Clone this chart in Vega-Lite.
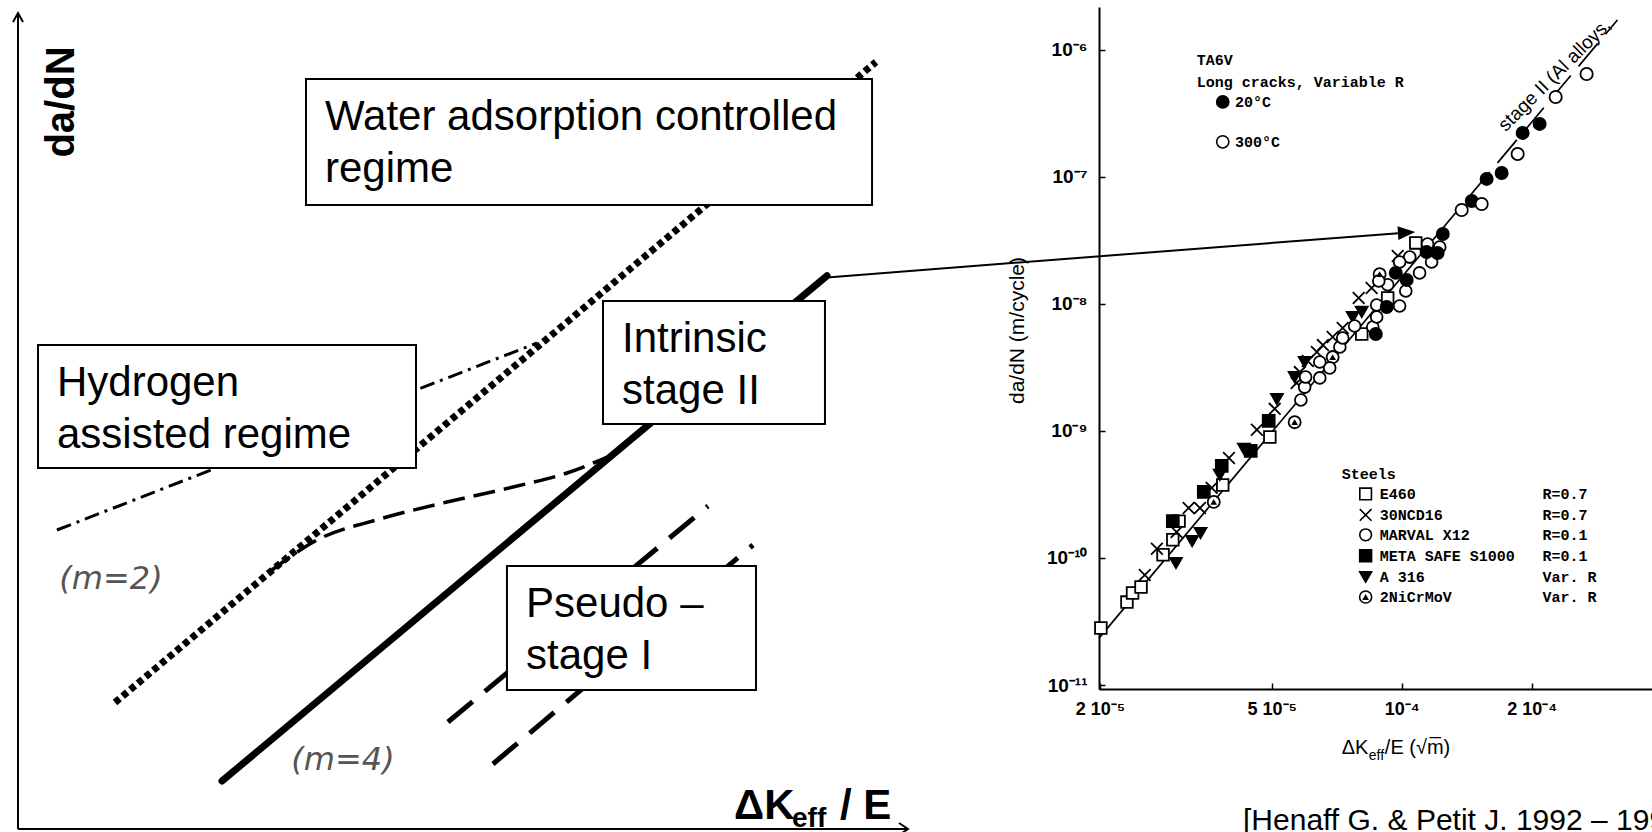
{
  "$schema": "https://vega.github.io/schema/vega-lite/v6.json",
  "width": 1652,
  "height": 832,
  "padding": 0,
  "autosize": "none",
  "background": "white",
  "config": {"view": {"stroke": null}},
  "datasets": {
    "lines": [
      {"id": "dotted", "o": 0, "u": 10.90, "v": 15.50}, {"id": "dotted", "o": 1, "u": 96.40, "v": 94.00},
      {"id": "solid", "o": 0, "u": 22.92, "v": 5.88}, {"id": "solid", "o": 1, "u": 90.90, "v": 67.80},
      {"id": "dashdot", "o": 0, "u": 4.38, "v": 36.64}, {"id": "dashdot", "o": 1, "u": 58.31, "v": 59.56},
      {"id": "curve", "o": 0, "u": 28.54, "v": 31.74}, {"id": "curve", "o": 1, "u": 33.60, "v": 35.42},
      {"id": "curve", "o": 2, "u": 40.67, "v": 37.99}, {"id": "curve", "o": 3, "u": 48.20, "v": 40.07},
      {"id": "curve", "o": 4, "u": 55.62, "v": 41.91}, {"id": "curve", "o": 5, "u": 61.69, "v": 43.63},
      {"id": "curve", "o": 6, "u": 66.74, "v": 45.83},
      {"id": "pseudoA", "o": 0, "u": 48.31, "v": 13.11}, {"id": "pseudoA", "o": 1, "u": 77.53, "v": 39.58},
      {"id": "pseudoB", "o": 0, "u": 53.37, "v": 7.97}, {"id": "pseudoB", "o": 1, "u": 82.58, "v": 34.80},
      {"id": "yaxis", "o": 0, "u": 0, "v": 0}, {"id": "yaxis", "o": 1, "u": 0, "v": 100},
      {"id": "xaxis", "o": 0, "u": 0, "v": 0}, {"id": "xaxis", "o": 1, "u": 100, "v": 0},
      {"id": "yhead", "o": 0, "u": -0.56, "v": 98.9}, {"id": "yhead", "o": 1, "u": 0, "v": 100}, {"id": "yhead", "o": 2, "u": 0.56, "v": 98.9},
      {"id": "xhead", "o": 0, "u": 98.99, "v": 0.74}, {"id": "xhead", "o": 1, "u": 100, "v": 0}, {"id": "xhead", "o": 2, "u": 98.99, "v": -0.74},
      {"id": "arrow", "o": 0, "u": 90.90, "v": 67.60}, {"id": "arrow", "o": 1, "u": 155.10, "v": 73.02}
    ],
    "arrowTip": [{"u": 156.02, "v": 73.09}],
    "boxes": [
      {"name": "water", "u": 32.36, "u2": 95.96, "v": 91.91, "v2": 76.47},
      {"name": "intrinsic", "u": 65.73, "u2": 90.67, "v": 64.71, "v2": 49.63},
      {"name": "hydrogen", "u": 2.25, "u2": 44.72, "v": 59.31, "v2": 44.24},
      {"name": "pseudo", "u": 54.94, "u2": 82.92, "v": 32.23, "v2": 17.03}
    ],
    "boxText": [
      {"t": "Water adsorption controlled", "u": 34.49, "v": 85.66},
      {"t": "regime", "u": 34.49, "v": 79.29},
      {"t": "Intrinsic", "u": 67.87, "v": 58.46},
      {"t": "stage II", "u": 67.87, "v": 52.08},
      {"t": "Hydrogen", "u": 4.38, "v": 53.06},
      {"t": "assisted regime", "u": 4.38, "v": 46.69},
      {"t": "Pseudo –", "u": 57.08, "v": 25.98},
      {"t": "stage I", "u": 57.08, "v": 19.61}
    ],
    "ltext": [
      {"id": "m", "t": "(m=2)", "u": 10.45, "v": 30.64},
      {"id": "m", "t": "(m=4)", "u": 36.52, "v": 8.46},
      {"id": "ylab", "t": "da/dN", "u": 4.94, "v": 89.09},
      {"id": "xmain", "t": "ΔK", "u": 80.45, "v": 1.23},
      {"id": "xsub", "t": "eff", "u": 86.97, "v": 0.25},
      {"id": "xmain", "t": "/ E", "u": 92.36, "v": 1.23}
    ],
    "trend": [
      {"part": "solid", "dk": 1.99e-5, "dadn": 2.34e-11},
      {"part": "solid", "dk": 1.25e-4, "dadn": 4.0e-8},
      {"part": "dash", "dk": 1.25e-4, "dadn": 4.0e-8},
      {"part": "dash", "dk": 3.16e-4, "dadn": 1.71e-6}
    ],
    "pts": [
      {"s": "E460", "dk": 2.01e-5, "dadn": 2.81e-11},
      {"s": "E460", "dk": 2.31e-5, "dadn": 4.50e-11},
      {"s": "E460", "dk": 2.38e-5, "dadn": 5.30e-11},
      {"s": "E460", "dk": 2.49e-5, "dadn": 5.91e-11},
      {"s": "E460", "dk": 2.80e-5, "dadn": 1.06e-10},
      {"s": "E460", "dk": 2.95e-5, "dadn": 1.39e-10},
      {"s": "E460", "dk": 3.05e-5, "dadn": 1.95e-10},
      {"s": "E460", "dk": 3.85e-5, "dadn": 3.75e-10},
      {"s": "E460", "dk": 4.95e-5, "dadn": 8.95e-10},
      {"s": "E460", "dk": 8.08e-5, "dadn": 5.78e-9},
      {"s": "E460", "dk": 9.28e-5, "dadn": 1.11e-8},
      {"s": "E460", "dk": 1.078e-4, "dadn": 3.01e-8},
      {"s": "30NCD16", "dk": 2.54e-5, "dadn": 7.35e-11},
      {"s": "30NCD16", "dk": 2.71e-5, "dadn": 1.18e-10},
      {"s": "30NCD16", "dk": 3.01e-5, "dadn": 1.60e-10},
      {"s": "30NCD16", "dk": 3.21e-5, "dadn": 2.47e-10},
      {"s": "30NCD16", "dk": 3.41e-5, "dadn": 2.47e-10},
      {"s": "30NCD16", "dk": 3.63e-5, "dadn": 3.56e-10},
      {"s": "30NCD16", "dk": 3.98e-5, "dadn": 6.12e-10},
      {"s": "30NCD16", "dk": 4.62e-5, "dadn": 1.02e-9},
      {"s": "30NCD16", "dk": 5.08e-5, "dadn": 1.49e-9},
      {"s": "30NCD16", "dk": 5.71e-5, "dadn": 2.38e-9},
      {"s": "30NCD16", "dk": 5.81e-5, "dadn": 2.90e-9},
      {"s": "30NCD16", "dk": 6.06e-5, "dadn": 3.55e-9},
      {"s": "30NCD16", "dk": 6.36e-5, "dadn": 4.18e-9},
      {"s": "30NCD16", "dk": 6.57e-5, "dadn": 4.73e-9},
      {"s": "30NCD16", "dk": 6.92e-5, "dadn": 5.47e-9},
      {"s": "30NCD16", "dk": 7.30e-5, "dadn": 6.44e-9},
      {"s": "30NCD16", "dk": 7.95e-5, "dadn": 1.11e-8},
      {"s": "30NCD16", "dk": 8.52e-5, "dadn": 1.33e-8},
      {"s": "30NCD16", "dk": 9.79e-5, "dadn": 2.38e-8},
      {"s": "META SAFE S1000", "dk": 2.95e-5, "dadn": 1.95e-10},
      {"s": "META SAFE S1000", "dk": 3.48e-5, "dadn": 3.31e-10},
      {"s": "META SAFE S1000", "dk": 3.83e-5, "dadn": 5.30e-10},
      {"s": "META SAFE S1000", "dk": 4.47e-5, "dadn": 6.95e-10},
      {"s": "META SAFE S1000", "dk": 4.92e-5, "dadn": 1.20e-9},
      {"s": "A 316", "dk": 3.00e-5, "dadn": 9.13e-11},
      {"s": "A 316", "dk": 3.27e-5, "dadn": 1.36e-10},
      {"s": "A 316", "dk": 3.42e-5, "dadn": 1.57e-10},
      {"s": "A 316", "dk": 3.79e-5, "dadn": 4.50e-10},
      {"s": "A 316", "dk": 4.31e-5, "dadn": 7.21e-10},
      {"s": "A 316", "dk": 5.14e-5, "dadn": 1.78e-9},
      {"s": "A 316", "dk": 5.65e-5, "dadn": 2.65e-9},
      {"s": "A 316", "dk": 5.96e-5, "dadn": 3.48e-9},
      {"s": "A 316", "dk": 7.70e-5, "dadn": 7.87e-9},
      {"s": "A 316", "dk": 8.08e-5, "dadn": 8.63e-9},
      {"s": "2NiCrMoV", "dk": 3.67e-5, "dadn": 2.76e-10},
      {"s": "2NiCrMoV", "dk": 5.65e-5, "dadn": 1.17e-9},
      {"s": "2NiCrMoV", "dk": 6.92e-5, "dadn": 3.81e-9},
      {"s": "2NiCrMoV", "dk": 8.89e-5, "dadn": 1.71e-8},
      {"s": "MARVAL X12", "dk": 5.84e-5, "dadn": 1.75e-9},
      {"s": "MARVAL X12", "dk": 5.96e-5, "dadn": 2.21e-9},
      {"s": "MARVAL X12", "dk": 5.99e-5, "dadn": 2.65e-9},
      {"s": "MARVAL X12", "dk": 6.46e-5, "dadn": 2.61e-9},
      {"s": "MARVAL X12", "dk": 6.81e-5, "dadn": 3.13e-9},
      {"s": "MARVAL X12", "dk": 6.46e-5, "dadn": 3.48e-9},
      {"s": "MARVAL X12", "dk": 7.19e-5, "dadn": 4.57e-9},
      {"s": "MARVAL X12", "dk": 7.30e-5, "dadn": 5.38e-9},
      {"s": "MARVAL X12", "dk": 7.78e-5, "dadn": 6.68e-9},
      {"s": "MARVAL X12", "dk": 8.57e-5, "dadn": 6.56e-9},
      {"s": "MARVAL X12", "dk": 8.75e-5, "dadn": 7.87e-9},
      {"s": "MARVAL X12", "dk": 8.75e-5, "dadn": 9.79e-9},
      {"s": "MARVAL X12", "dk": 9.89e-5, "dadn": 9.61e-9},
      {"s": "MARVAL X12", "dk": 1.022e-4, "dadn": 1.26e-8},
      {"s": "MARVAL X12", "dk": 9.28e-5, "dadn": 1.41e-8},
      {"s": "MARVAL X12", "dk": 8.85e-5, "dadn": 1.51e-8},
      {"s": "MARVAL X12", "dk": 1.10e-4, "dadn": 1.75e-8},
      {"s": "MARVAL X12", "dk": 1.044e-4, "dadn": 2.33e-8},
      {"s": "MARVAL X12", "dk": 9.89e-5, "dadn": 2.13e-8},
      {"s": "MARVAL X12", "dk": 1.148e-4, "dadn": 2.95e-8},
      {"s": "MARVAL X12", "dk": 1.225e-4, "dadn": 2.80e-8},
      {"s": "MARVAL X12", "dk": 1.173e-4, "dadn": 2.13e-8},
      {"s": "TA6V 20°C", "dk": 8.71e-5, "dadn": 5.78e-9},
      {"s": "TA6V 20°C", "dk": 9.23e-5, "dadn": 9.44e-9},
      {"s": "TA6V 20°C", "dk": 9.69e-5, "dadn": 1.75e-8},
      {"s": "TA6V 20°C", "dk": 1.027e-4, "dadn": 1.54e-8},
      {"s": "TA6V 20°C", "dk": 1.142e-4, "dadn": 2.55e-8},
      {"s": "TA6V 20°C", "dk": 1.211e-4, "dadn": 2.51e-8},
      {"s": "TA6V 20°C", "dk": 1.245e-4, "dadn": 3.54e-8},
      {"s": "TA6V 20°C", "dk": 1.453e-4, "dadn": 6.44e-8},
      {"s": "TA6V 20°C", "dk": 1.573e-4, "dadn": 9.60e-8},
      {"s": "TA6V 20°C", "dk": 1.704e-4, "dadn": 1.07e-7},
      {"s": "TA6V 20°C", "dk": 1.906e-4, "dadn": 2.21e-7},
      {"s": "TA6V 20°C", "dk": 2.087e-4, "dadn": 2.60e-7},
      {"s": "TA6V 300°C", "dk": 1.377e-4, "dadn": 5.47e-8},
      {"s": "TA6V 300°C", "dk": 1.532e-4, "dadn": 6.10e-8},
      {"s": "TA6V 300°C", "dk": 1.856e-4, "dadn": 1.51e-7},
      {"s": "TA6V 300°C", "dk": 2.273e-4, "dadn": 4.24e-7},
      {"s": "TA6V 300°C", "dk": 2.681e-4, "dadn": 6.43e-7}
    ],
    "tleg": [
      {"s": "TA6V 20°C", "t": "20°C", "dk": 3.85e-5, "tk": 4.11e-5, "dadn": 3.87e-7},
      {"s": "TA6V 300°C", "t": "300°C", "dk": 3.85e-5, "tk": 4.11e-5, "dadn": 1.88e-7}
    ],
    "sleg": [
      {"s": "E460", "t": "E460", "r": "R=0.7", "dk": 8.25e-5, "nk": 8.89e-5, "rk": 2.12e-4, "dadn": 3.19e-10},
      {"s": "30NCD16", "t": "30NCD16", "r": "R=0.7", "dk": 8.25e-5, "nk": 8.89e-5, "rk": 2.12e-4, "dadn": 2.18e-10},
      {"s": "MARVAL X12", "t": "MARVAL X12", "r": "R=0.1", "dk": 8.25e-5, "nk": 8.89e-5, "rk": 2.12e-4, "dadn": 1.52e-10},
      {"s": "META SAFE S1000", "t": "META SAFE S1000", "r": "R=0.1", "dk": 8.25e-5, "nk": 8.89e-5, "rk": 2.12e-4, "dadn": 1.04e-10},
      {"s": "A 316", "t": "A 316", "r": "Var. R", "dk": 8.25e-5, "nk": 8.89e-5, "rk": 2.12e-4, "dadn": 7.08e-11},
      {"s": "2NiCrMoV", "t": "2NiCrMoV", "r": "Var. R", "dk": 8.25e-5, "nk": 8.89e-5, "rk": 2.12e-4, "dadn": 4.93e-11}
    ],
    "rnote": [
      {"t": "TA6V", "dk": 3.35e-5, "dadn": 8.28e-7},
      {"t": "Long cracks, Variable R", "dk": 3.35e-5, "dadn": 5.56e-7},
      {"t": "Steels", "dk": 7.26e-5, "dadn": 4.58e-10}
    ],
    "stage": [{"t": "stage II (Al alloys,", "dk": 2.26e-4, "dadn": 6.31e-7}],
    "xtitle": [
      {"id": "main", "t": "ΔK", "dk": 7.26e-5, "dadn": 2.87e-12},
      {"id": "sub", "t": "eff", "dk": 8.39e-5, "dadn": 2.58e-12},
      {"id": "main", "t": "/E (√m̅)", "dk": 9.14e-5, "dadn": 2.87e-12}
    ],
    "cite": [{"t": "[Henaff G.  & Petit J. 1992 – 1994]", "dk": 4.29e-5, "dadn": 7.24e-13}]
  },
  "layer": [
    {
      "encoding": {
        "x": {"field": "u", "type": "quantitative", "scale": {"domain": [0, 100], "range": [18, 908], "nice": false, "zero": false}, "axis": null},
        "y": {"field": "v", "type": "quantitative", "scale": {"domain": [0, 100], "range": [829, 13], "nice": false, "zero": false}, "axis": null}
      },
      "layer": [
        {
          "data": {"name": "lines"},
          "transform": [{"filter": "datum.id == 'dotted'"}],
          "mark": {"type": "line", "color": "black", "strokeWidth": 7, "strokeDash": [6, 4], "strokeCap": "butt"},
          "encoding": {"order": {"field": "o"}}
        },
        {
          "data": {"name": "lines"},
          "transform": [{"filter": "datum.id == 'solid'"}],
          "mark": {"type": "line", "color": "black", "strokeWidth": 7, "strokeCap": "round"},
          "encoding": {"order": {"field": "o"}}
        },
        {
          "data": {"name": "lines"},
          "transform": [{"filter": "datum.id == 'dashdot'"}],
          "mark": {"type": "line", "color": "black", "strokeWidth": 3, "strokeDash": [15, 6, 3, 6]},
          "encoding": {"order": {"field": "o"}}
        },
        {
          "data": {"name": "lines"},
          "transform": [{"filter": "datum.id == 'curve'"}],
          "mark": {"type": "line", "color": "black", "strokeWidth": 3.5, "strokeDash": [22, 9], "interpolate": "monotone"},
          "encoding": {"order": {"field": "o"}}
        },
        {
          "data": {"name": "lines"},
          "transform": [{"filter": "datum.id == 'pseudoA' || datum.id == 'pseudoB'"}],
          "mark": {"type": "line", "color": "black", "strokeWidth": 5, "strokeDash": [32, 16]},
          "encoding": {"detail": {"field": "id"}, "order": {"field": "o"}}
        },
        {
          "data": {"name": "boxes"},
          "mark": {"type": "rect", "fill": "white", "stroke": "black", "strokeWidth": 2},
          "encoding": {"x2": {"field": "u2"}, "y2": {"field": "v2"}}
        },
        {
          "data": {"name": "boxText"},
          "mark": {"type": "text", "font": "Liberation Sans", "fontSize": 42, "align": "left", "baseline": "alphabetic", "color": "black"},
          "encoding": {"text": {"field": "t"}}
        },
        {
          "data": {"name": "ltext"},
          "transform": [{"filter": "datum.id == 'm'"}],
          "mark": {"type": "text", "font": "DejaVu Sans", "fontStyle": "italic", "fontSize": 32, "align": "center", "baseline": "middle", "color": "#555555"},
          "encoding": {"text": {"field": "t"}}
        },
        {
          "data": {"name": "ltext"},
          "transform": [{"filter": "datum.id == 'ylab'"}],
          "mark": {"type": "text", "font": "Liberation Sans", "fontWeight": "bold", "fontSize": 40, "angle": 270, "align": "center", "baseline": "middle", "color": "black"},
          "encoding": {"text": {"field": "t"}}
        },
        {
          "data": {"name": "ltext"},
          "transform": [{"filter": "datum.id == 'xmain'"}],
          "mark": {"type": "text", "font": "Liberation Sans", "fontWeight": "bold", "fontSize": 42, "align": "left", "baseline": "alphabetic", "color": "black"},
          "encoding": {"text": {"field": "t"}}
        },
        {
          "data": {"name": "ltext"},
          "transform": [{"filter": "datum.id == 'xsub'"}],
          "mark": {"type": "text", "font": "Liberation Sans", "fontWeight": "bold", "fontSize": 28, "align": "left", "baseline": "alphabetic", "color": "black"},
          "encoding": {"text": {"field": "t"}}
        },
        {
          "data": {"name": "lines"},
          "transform": [{"filter": "indexof(['yaxis','xaxis','yhead','xhead','arrow'], datum.id) >= 0"}],
          "mark": {"type": "line", "color": "black", "strokeWidth": 2},
          "encoding": {"detail": {"field": "id"}, "order": {"field": "o"}}
        },
        {
          "data": {"name": "arrowTip"},
          "mark": {"type": "point", "shape": "M1,0L-1,-0.8L-1,0.8Z", "size": 300, "angle": 356.3, "filled": true, "color": "black", "opacity": 1}
        }
      ]
    },
    {
      "encoding": {
        "x": {
          "field": "dk", "type": "quantitative",
          "scale": {"type": "log", "domain": [1.99e-5, 3.8e-4], "range": [1099, 1652], "nice": false},
          "axis": {
            "orient": "bottom", "offset": -143, "values": [2e-5, 5e-5, 1e-4, 2e-4],
            "labelExpr": "datum.value < 3e-5 ? '2 10⁻⁵' : datum.value < 7e-5 ? '5 10⁻⁵' : datum.value < 1.5e-4 ? '10⁻⁴' : '2 10⁻⁴'",
            "tickSize": -6, "tickWidth": 1.5, "tickColor": "black", "labelPadding": 17,
            "labelFont": "Liberation Sans", "labelFontSize": 18, "labelFontWeight": "bold", "labelColor": "black",
            "domainColor": "black", "domainWidth": 2, "grid": false, "title": null, "labelOverlap": false, "labelFlush": false
          }
        },
        "y": {
          "field": "dadn", "type": "quantitative",
          "scale": {"type": "log", "domain": [9.31e-12, 2.163e-6], "range": [689, 7], "nice": false},
          "axis": {
            "orient": "left", "offset": -1099, "values": [1e-11, 1e-10, 1e-9, 1e-8, 1e-7, 1e-6],
            "labelExpr": "['10⁻¹¹','10⁻¹⁰','10⁻⁹','10⁻⁸','10⁻⁷','10⁻⁶'][round(log(datum.value)/LN10)+11]",
            "tickSize": -6, "tickWidth": 1.5, "tickColor": "black", "labelPadding": 18,
            "labelFont": "Liberation Sans", "labelFontSize": 19, "labelFontWeight": "bold", "labelColor": "black",
            "domainColor": "black", "domainWidth": 2, "grid": false, "labelOverlap": false, "labelFlush": false,
            "title": "da/dN  (m/cycle)", "titleFont": "Liberation Sans", "titleFontSize": 21, "titleFontWeight": "normal",
            "titleColor": "black", "titleX": -72, "titleY": 330, "titleAngle": 270, "titleBaseline": "bottom", "titleAlign": "center"
          }
        }
      },
      "layer": [
        {
          "data": {"name": "trend"},
          "transform": [{"filter": "datum.part == 'solid'"}],
          "mark": {"type": "line", "color": "black", "strokeWidth": 1.7}
        },
        {
          "data": {"name": "trend"},
          "transform": [{"filter": "datum.part == 'dash'"}],
          "mark": {"type": "line", "color": "black", "strokeWidth": 1.7, "strokeDash": [30, 12]}
        },
        {
          "data": {"name": "pts"},
          "mark": {"type": "point", "filled": true, "stroke": "black", "strokeWidth": 1.8, "opacity": 1},
          "encoding": {
            "shape": {"field": "s", "type": "nominal", "legend": null, "scale": {
              "domain": ["E460", "30NCD16", "MARVAL X12", "META SAFE S1000", "A 316", "2NiCrMoV", "TA6V 20°C", "TA6V 300°C"],
              "range": ["square", "M-1,-1L1,1M1,-1L-1,1", "circle", "square", "triangle-down", "circle", "circle", "circle"]}},
            "fill": {"field": "s", "type": "nominal", "legend": null, "scale": {
              "domain": ["E460", "30NCD16", "MARVAL X12", "META SAFE S1000", "A 316", "2NiCrMoV", "TA6V 20°C", "TA6V 300°C"],
              "range": ["white", "transparent", "white", "black", "black", "white", "black", "white"]}},
            "size": {"field": "s", "type": "nominal", "legend": null, "scale": {
              "domain": ["E460", "30NCD16", "MARVAL X12", "META SAFE S1000", "A 316", "2NiCrMoV", "TA6V 20°C", "TA6V 300°C"],
              "range": [135, 150, 170, 95, 110, 210, 95, 170]}}
          }
        },
        {
          "data": {"name": "pts"},
          "transform": [{"filter": "datum.s == '2NiCrMoV'"}],
          "mark": {"type": "point", "shape": "triangle-up", "filled": true, "color": "black", "size": 45, "opacity": 1}
        },
        {
          "data": {"name": "sleg"},
          "mark": {"type": "point", "filled": true, "stroke": "black", "strokeWidth": 1.6, "opacity": 1},
          "encoding": {
            "shape": {"field": "s", "type": "nominal", "legend": null},
            "fill": {"field": "s", "type": "nominal", "legend": null},
            "size": {"field": "s", "type": "nominal", "legend": null}
          }
        },
        {
          "data": {"name": "sleg"},
          "transform": [{"filter": "datum.s == '2NiCrMoV'"}],
          "mark": {"type": "point", "shape": "triangle-up", "filled": true, "color": "black", "size": 45, "opacity": 1}
        },
        {
          "data": {"name": "sleg"},
          "mark": {"type": "text", "font": "Liberation Mono", "fontWeight": "bold", "fontSize": 15, "align": "left", "baseline": "middle", "color": "black"},
          "encoding": {"x": {"field": "nk", "type": "quantitative"}, "text": {"field": "t"}}
        },
        {
          "data": {"name": "sleg"},
          "mark": {"type": "text", "font": "Liberation Mono", "fontWeight": "bold", "fontSize": 15, "align": "left", "baseline": "middle", "color": "black"},
          "encoding": {"x": {"field": "rk", "type": "quantitative"}, "text": {"field": "r"}}
        },
        {
          "data": {"name": "tleg"},
          "mark": {"type": "point", "filled": true, "stroke": "black", "strokeWidth": 1.6, "opacity": 1},
          "encoding": {
            "shape": {"field": "s", "type": "nominal", "legend": null},
            "fill": {"field": "s", "type": "nominal", "legend": null},
            "size": {"field": "s", "type": "nominal", "legend": null}
          }
        },
        {
          "data": {"name": "tleg"},
          "mark": {"type": "text", "font": "Liberation Mono", "fontWeight": "bold", "fontSize": 15, "align": "left", "baseline": "middle", "color": "black"},
          "encoding": {"x": {"field": "tk", "type": "quantitative"}, "text": {"field": "t"}}
        },
        {
          "data": {"name": "rnote"},
          "mark": {"type": "text", "font": "Liberation Mono", "fontWeight": "bold", "fontSize": 15, "align": "left", "baseline": "middle", "color": "black"},
          "encoding": {"text": {"field": "t"}}
        },
        {
          "data": {"name": "stage"},
          "mark": {"type": "text", "font": "Liberation Sans", "fontSize": 19, "angle": 315, "align": "center", "baseline": "middle", "color": "black"},
          "encoding": {"text": {"field": "t"}}
        },
        {
          "data": {"name": "xtitle"},
          "transform": [{"filter": "datum.id == 'main'"}],
          "mark": {"type": "text", "font": "Liberation Sans", "fontSize": 20, "align": "left", "baseline": "alphabetic", "color": "black"},
          "encoding": {"text": {"field": "t"}}
        },
        {
          "data": {"name": "xtitle"},
          "transform": [{"filter": "datum.id == 'sub'"}],
          "mark": {"type": "text", "font": "Liberation Sans", "fontSize": 14, "align": "left", "baseline": "alphabetic", "color": "black"},
          "encoding": {"text": {"field": "t"}}
        },
        {
          "data": {"name": "cite"},
          "mark": {"type": "text", "font": "Liberation Sans", "fontSize": 30, "align": "left", "baseline": "alphabetic", "color": "black"},
          "encoding": {"text": {"field": "t"}}
        }
      ]
    }
  ],
  "resolve": {"scale": {"x": "independent", "y": "independent"}}
}
